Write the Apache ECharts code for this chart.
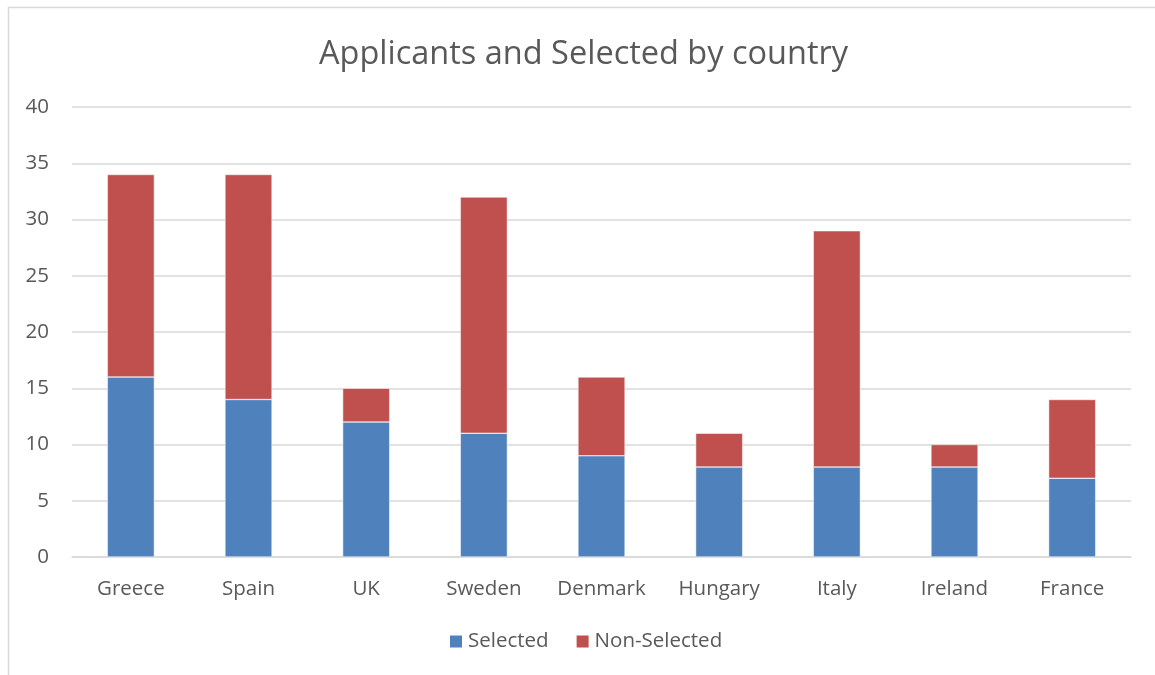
<!DOCTYPE html>
<html>
<head>
<meta charset="utf-8">
<script src="https://cdn.jsdelivr.net/npm/echarts@6/dist/echarts.min.js"></script>
<style>
html,body{margin:0;padding:0;background:#fff;}
#chart{width:1155px;height:675px;}
</style>
</head>
<body>
<div id="chart"></div>
<script>
const categories = ['Greece','Spain','UK','Sweden','Denmark','Hungary','Italy','Ireland','France'];
const selected = [16,14,12,11,9,8,8,8,7];
const nonSelected = [18,20,3,21,7,3,21,2,7];
const yTicks = [0,5,10,15,20,25,30,35,40];

const chart = echarts.init(document.getElementById('chart'));
const font = 'Open Sans';
chart.setOption({
  animation:false,
  graphic:[{type:'rect',shape:{x:8.5,y:7.5,width:1200,height:700},style:{fill:'none',stroke:'#D9D9D9',lineWidth:1.5},silent:true}],
  title:{text:'Applicants and Selected by country',left:314,top:33,
    textStyle:{fontFamily:font,fontSize:32.5,fontWeight:'normal',color:'#595959'}},
  legend:{bottom:18,left:443,itemWidth:14,itemHeight:14,itemGap:26,icon:'rect',
    textStyle:{fontFamily:font,fontSize:20.5,color:'#595959'},
    data:['Selected','Non-Selected']},
  grid:{left:72,right:24,top:107,bottom:118},
  xAxis:{type:'category',data:categories,
    axisLine:{lineStyle:{color:'#D9D9D9',width:1.5}},axisTick:{show:false},
    axisLabel:{fontFamily:font,fontSize:20.5,color:'#595959',margin:22}},
  yAxis:{type:'value',min:yTicks[0],max:yTicks[yTicks.length-1],interval:5,
    axisLine:{show:false},axisTick:{show:false},
    splitLine:{lineStyle:{color:'#D9D9D9',width:1.5}},
    axisLabel:{fontFamily:font,fontSize:20.5,color:'#595959',margin:23,align:'right'}},
  series:[
    {name:'Selected',type:'bar',stack:'a',data:selected,barWidth:'40%',
      itemStyle:{color:'#4F81BD',borderColor:'#ffffff',borderWidth:0.5}},
    {name:'Non-Selected',type:'bar',stack:'a',data:nonSelected,barWidth:'40%',
      itemStyle:{color:'#C0504D',borderColor:'#ffffff',borderWidth:0.5}}
  ]
});
</script>
</body>
</html>
